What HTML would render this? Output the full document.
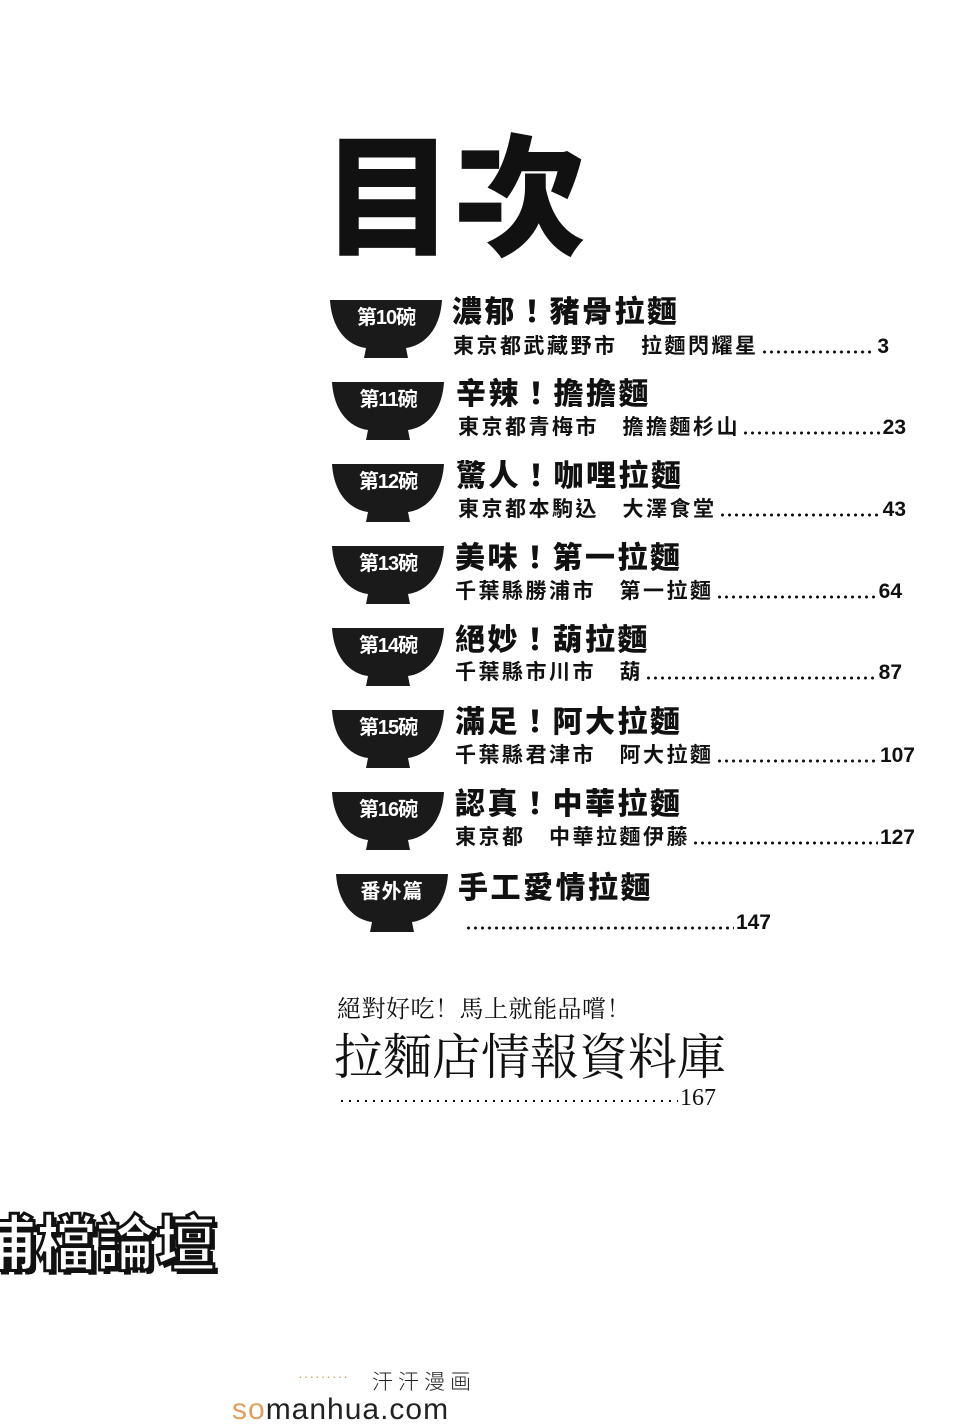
<!DOCTYPE html>
<html><head><meta charset="utf-8"><style>
body{margin:0;background:#fff;}
#p{position:relative;width:980px;height:1427px;overflow:hidden;background:#fff;font-family:"Liberation Sans","Noto Sans CJK TC",sans-serif;color:#111;}
.a{position:absolute;white-space:nowrap;}
.bowl{position:absolute;width:112px;height:62px;}
.bl{position:absolute;left:0;width:112px;top:6px;text-align:center;color:#fff;font-weight:700;font-size:20px;line-height:28px;letter-spacing:-1px;}
.t{position:absolute;font-weight:900;font-size:30px;line-height:34px;letter-spacing:2.5px;}
.s{position:absolute;display:flex;align-items:flex-end;font-weight:700;font-size:21px;line-height:24px;}
.s span.x{letter-spacing:2.5px;}
.d{flex:1;height:4px;margin:0 2px 5px 2px;background-image:radial-gradient(circle,#111 1.4px,transparent 1.6px);background-size:7px 4px;background-repeat:repeat-x;}
.serif{font-family:"Liberation Serif","Noto Serif CJK SC",serif;}
</style></head><body><div id="p">
<div class="a" style="left:322px;top:122px;font-size:132px;font-weight:900;line-height:156px;letter-spacing:0px;">目次</div>

<div class="bowl" style="left:330px;top:298px"><svg width="112" height="62"><path d="M0,2 L112,2 C110,34 92,48 76,50 L78,60 L34,60 L36,50 C20,48 2,34 0,2Z" fill="#1a1a1a"/></svg><div class="bl">第10碗</div></div>
<div class="t" style="left:452px;top:296px">濃郁！豬骨拉麵</div>
<div class="s" style="left:453px;top:335px;width:436px"><span class="x">東京都武藏野市　拉麵閃耀星</span><span class="d"></span><span>3</span></div>

<div class="bowl" style="left:332px;top:380px"><svg width="112" height="62"><path d="M0,2 L112,2 C110,34 92,48 76,50 L78,60 L34,60 L36,50 C20,48 2,34 0,2Z" fill="#1a1a1a"/></svg><div class="bl">第11碗</div></div>
<div class="t" style="left:456px;top:378px">辛辣！擔擔麵</div>
<div class="s" style="left:458px;top:416px;width:448px"><span class="x">東京都青梅市　擔擔麵杉山</span><span class="d"></span><span>23</span></div>

<div class="bowl" style="left:332px;top:462px"><svg width="112" height="62"><path d="M0,2 L112,2 C110,34 92,48 76,50 L78,60 L34,60 L36,50 C20,48 2,34 0,2Z" fill="#1a1a1a"/></svg><div class="bl">第12碗</div></div>
<div class="t" style="left:456px;top:460px">驚人！咖哩拉麵</div>
<div class="s" style="left:458px;top:498px;width:448px"><span class="x">東京都本駒込　大澤食堂</span><span class="d"></span><span>43</span></div>

<div class="bowl" style="left:332px;top:544px"><svg width="112" height="62"><path d="M0,2 L112,2 C110,34 92,48 76,50 L78,60 L34,60 L36,50 C20,48 2,34 0,2Z" fill="#1a1a1a"/></svg><div class="bl">第13碗</div></div>
<div class="t" style="left:455px;top:542px">美味！第一拉麵</div>
<div class="s" style="left:455px;top:580px;width:447px"><span class="x">千葉縣勝浦市　第一拉麵</span><span class="d"></span><span>64</span></div>

<div class="bowl" style="left:332px;top:626px"><svg width="112" height="62"><path d="M0,2 L112,2 C110,34 92,48 76,50 L78,60 L34,60 L36,50 C20,48 2,34 0,2Z" fill="#1a1a1a"/></svg><div class="bl">第14碗</div></div>
<div class="t" style="left:455px;top:624px">絕妙！葫拉麵</div>
<div class="s" style="left:455px;top:661px;width:447px"><span class="x">千葉縣市川市　葫</span><span class="d"></span><span>87</span></div>

<div class="bowl" style="left:332px;top:708px"><svg width="112" height="62"><path d="M0,2 L112,2 C110,34 92,48 76,50 L78,60 L34,60 L36,50 C20,48 2,34 0,2Z" fill="#1a1a1a"/></svg><div class="bl">第15碗</div></div>
<div class="t" style="left:455px;top:706px">滿足！阿大拉麵</div>
<div class="s" style="left:455px;top:744px;width:460px"><span class="x">千葉縣君津市　阿大拉麵</span><span class="d"></span><span>107</span></div>

<div class="bowl" style="left:332px;top:790px"><svg width="112" height="62"><path d="M0,2 L112,2 C110,34 92,48 76,50 L78,60 L34,60 L36,50 C20,48 2,34 0,2Z" fill="#1a1a1a"/></svg><div class="bl">第16碗</div></div>
<div class="t" style="left:455px;top:788px">認真！中華拉麵</div>
<div class="s" style="left:455px;top:826px;width:460px"><span class="x">東京都　中華拉麵伊藤</span><span class="d"></span><span>127</span></div>

<div class="bowl" style="left:336px;top:872px"><svg width="112" height="62"><path d="M0,2 L112,2 C110,34 92,48 76,50 L78,60 L34,60 L36,50 C20,48 2,34 0,2Z" fill="#1a1a1a"/></svg><div class="bl" style="letter-spacing:1px">番外篇</div></div>
<div class="t" style="left:458px;top:872px">手工愛情拉麵</div>
<div class="s" style="left:465px;top:911px;width:306px"><span class="d" style="margin-left:0"></span><span>147</span></div>

<div class="a serif" style="left:337px;top:996px;font-size:24px;line-height:28px;letter-spacing:0.5px">絕對好吃！馬上就能品嚐！</div>
<div class="a serif" style="left:334px;top:1030px;font-size:49px;line-height:56px;">拉麵店情報資料庫</div>
<div class="s serif" style="left:338px;top:1086px;width:378px;font-weight:400;font-size:24px;"><span class="d" style="margin-left:0;margin-bottom:7px;background-image:radial-gradient(circle,#111 1.1px,transparent 1.3px);background-size:8px 4px"></span><span>167</span></div>

<div class="a" style="left:-24px;top:1206px;font-size:60px;font-weight:900;line-height:68px;color:#fff;-webkit-text-stroke:3px #111;text-shadow:4px 4px 0 #111;font-family:'Noto Sans CJK TC',sans-serif;">浦檔論壇</div>

<div class="a" style="left:298px;top:1368px;font-size:14px;color:#d9a070;letter-spacing:1px">·········</div>
<div class="a" style="left:372px;top:1368px;font-size:21px;line-height:26px;color:#222;letter-spacing:5px;font-family:'Noto Sans CJK SC',sans-serif;font-weight:300">汗汗漫画</div>
<div class="a" style="left:232px;top:1393px;font-size:30px;line-height:34px;color:#222;letter-spacing:1px"><span style="color:#e0a060">so</span>manhua.com</div>
</div></body></html>
